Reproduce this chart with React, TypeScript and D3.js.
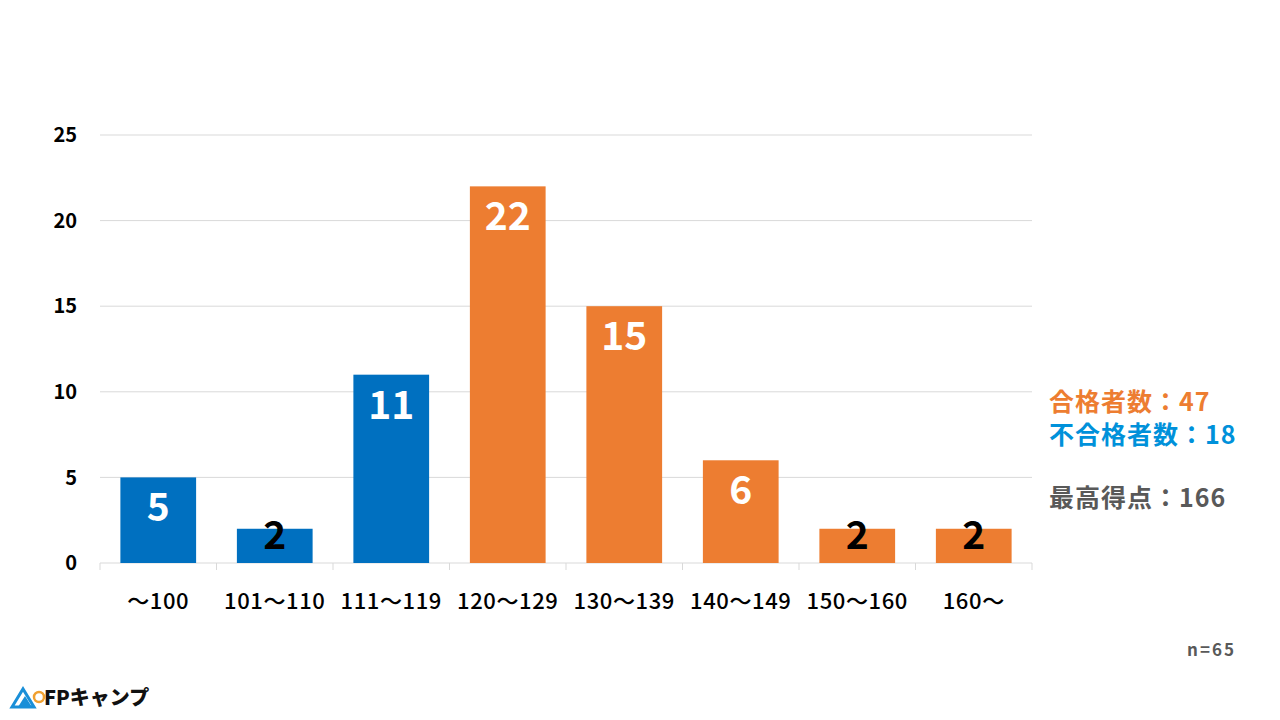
import React, { useEffect } from 'react';
import * as d3 from 'd3';

const categories = ['～100', '101～110', '111～119', '120～129', '130～139', '140～149', '150～160', '160～'];
const counts = [5, 2, 11, 22, 15, 6, 2, 2];
const passed = [false, false, false, true, true, true, true, true];
const yTicks = [0, 5, 10, 15, 20, 25];

const passLabel = '合格者数：47';
const failLabel = '不合格者数：18';
const topLabel = '最高得点：166';
const sampleLabel = 'n=65';

const W = 1280;
const H = 720;
const FONT = '"Noto Sans CJK JP", "Noto Sans", sans-serif';
const BLUE = '#0070C0';
const ORANGE = '#ED7D31';

export default function App() {
    useEffect(() => {
        document.body.style.margin = '0';
    }, []);

    const x = d3.scaleBand<string>()
        .domain(categories)
        .range([100, 1032])
        .paddingInner(0.35)
        .paddingOuter(0.175);

    const y = d3.scaleLinear().domain([0, 25]).range([563, 135]);

    const step = x.step();
    const boundaries = d3.range(categories.length + 1).map((i) => 100 + i * step);

    return (
        <svg width={W} height={H} style={{ display: 'block', background: '#fff' }} fontFamily={FONT}>
            {/* grid */}
            {yTicks.map((t) => (
                <line key={t} x1={100} x2={1032} y1={y(t)} y2={y(t)} stroke="#d9d9d9" strokeWidth={1} />
            ))}
            {boundaries.map((b, i) => (
                <line key={i} x1={b} x2={b} y1={y(0)} y2={y(0) + 7} stroke="#d9d9d9" strokeWidth={1} />
            ))}

            {/* y axis labels */}
            {yTicks.map((t) => (
                <text key={t} x={77} y={y(t)} dy="0.36em" textAnchor="end" fontSize={20} fontWeight={700} fill="#000">
                    {t}
                </text>
            ))}

            {/* bars */}
            {categories.map((c, i) => (
                <rect
                    key={c}
                    x={x(c)}
                    y={y(counts[i])}
                    width={x.bandwidth()}
                    height={y(0) - y(counts[i])}
                    fill={passed[i] ? ORANGE : BLUE}
                />
            ))}

            {/* value labels */}
            {categories.map((c, i) => {
                const top = y(counts[i]);
                const short = y(0) - top < 45;
                const cy = short ? top + 6 : top + 30;
                return (
                    <text
                        key={c}
                        x={(x(c) ?? 0) + x.bandwidth() / 2}
                        y={cy}
                        dy="0.36em"
                        textAnchor="middle"
                        fontSize={39}
                        fontWeight={700}
                        fill={short ? '#000' : '#fff'}
                    >
                        {counts[i]}
                    </text>
                );
            })}

            {/* x labels */}
            {categories.map((c) => (
                <text key={c} x={(x(c) ?? 0) + x.bandwidth() / 2} y={601} dy="0.36em" textAnchor="middle" fontSize={22} fontWeight={500} letterSpacing={0.6} fill="#000">
                    {c}
                </text>
            ))}

            {/* side notes */}
            <text x={1049} y={402} dy="0.36em" fontSize={25} fontWeight={700} letterSpacing={1} fill={ORANGE}>{passLabel}</text>
            <text x={1049} y={435} dy="0.36em" fontSize={25} fontWeight={700} letterSpacing={1} fill="#0091DA">{failLabel}</text>
            <text x={1049} y={498} dy="0.36em" fontSize={25} fontWeight={700} letterSpacing={1} fill="#595959">{topLabel}</text>
            <text x={1236} y={650} dy="0.36em" textAnchor="end" fontSize={17} fontWeight={700} fill="#595959" letterSpacing={2}>{sampleLabel}</text>

            {/* logo */}
            <g transform="translate(12,688)">
                <path d="M0,19 L11,1 L22,19 Z" fill="none" stroke="#1a8fd8" strokeWidth={3} />
                <path d="M6,19 L13,8 L20,19" fill="#1a8fd8" />
                <circle cx={27} cy={9} r={5} fill="none" stroke="#f0a030" strokeWidth={2.5} />
                <text x={32} y={17} fontSize={20} fontWeight={900} fill="#111">FPキャンプ</text>
            </g>
        </svg>
    );
}
